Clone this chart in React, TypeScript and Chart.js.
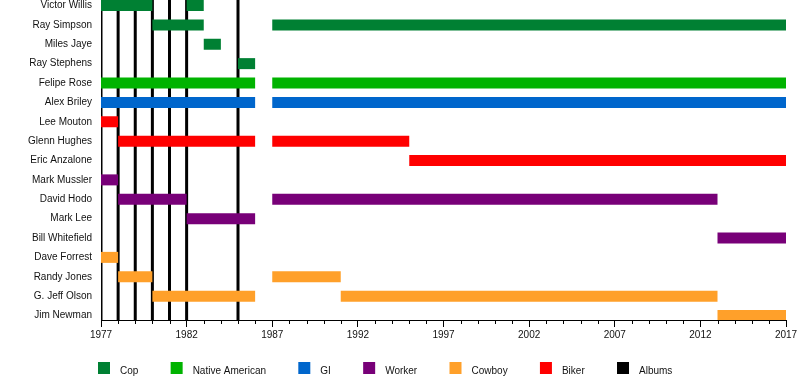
import React, { useEffect, useRef } from 'react';
import { Chart, registerables } from 'chart.js';

Chart.register(...registerables);

// ---- data ----
const MEMBERS = [
  'Victor Willis', 'Ray Simpson', 'Miles Jaye', 'Ray Stephens', 'Felipe Rose',
  'Alex Briley', 'Lee Mouton', 'Glenn Hughes', 'Eric Anzalone', 'Mark Mussler',
  'David Hodo', 'Mark Lee', 'Bill Whitefield', 'Dave Forrest', 'Randy Jones',
  'G. Jeff Olson', 'Jim Newman',
];

const COP: [string, number, number][] = [
  ['Victor Willis', 1977, 1980], ['Victor Willis', 1982, 1983],
  ['Ray Simpson', 1980, 1983], ['Ray Simpson', 1987, 2017],
  ['Miles Jaye', 1983, 1984], ['Ray Stephens', 1985, 1986],
];
const NATIVE_AMERICAN: [string, number, number][] = [
  ['Felipe Rose', 1977, 1986], ['Felipe Rose', 1987, 2017],
];
const GI: [string, number, number][] = [
  ['Alex Briley', 1977, 1986], ['Alex Briley', 1987, 2017],
];
const WORKER: [string, number, number][] = [
  ['Mark Mussler', 1977, 1978], ['David Hodo', 1978, 1982], ['David Hodo', 1987, 2013],
  ['Mark Lee', 1982, 1986], ['Bill Whitefield', 2013, 2017],
];
const COWBOY: [string, number, number][] = [
  ['Dave Forrest', 1977, 1978], ['Randy Jones', 1978, 1980], ['Randy Jones', 1987, 1991],
  ['G. Jeff Olson', 1980, 1986], ['G. Jeff Olson', 1991, 2013], ['Jim Newman', 2013, 2017],
];
const BIKER: [string, number, number][] = [
  ['Lee Mouton', 1977, 1978], ['Glenn Hughes', 1978, 1986], ['Glenn Hughes', 1987, 1995],
  ['Eric Anzalone', 1995, 2017],
];

const ROLE_NAMES = ['Cop', 'Native American', 'GI', 'Worker', 'Cowboy', 'Biker'];
const ROLE_COLORS = ['#008033', '#00B300', '#0066CC', '#780078', '#FFA02A', '#FF0000'];
const ROLE_SPANS = [COP, NATIVE_AMERICAN, GI, WORKER, COWBOY, BIKER];

const ALBUM_LABEL = 'Albums';
const ALBUM_COLOR = '#000000';
const ALBUM_YEARS = [1977, 1978, 1979, 1980, 1981, 1982, 1985];

const YEAR_MIN = 1977;
const YEAR_MAX = 2017;
const ROW_MIN = -0.284;
const ROW_MAX = 16.232;

const FONT = '"Liberation Sans", Arial, Helvetica, sans-serif';
const TEXT_COLOR = '#111';

const decorPlugin = {
  id: 'decor',
  afterDraw(chart: any) {
    const ctx = chart.ctx as CanvasRenderingContext2D;
    const xs = chart.scales.x;
    const area = chart.chartArea;
    ctx.save();
    // minor year ticks
    ctx.strokeStyle = '#000';
    ctx.lineWidth = 1;
    for (let yr = YEAR_MIN; yr <= YEAR_MAX; yr++) {
      if ((yr - YEAR_MIN) % 5 === 0) continue;
      const px = Math.round(xs.getPixelForValue(yr)) + 0.5;
      ctx.beginPath();
      ctx.moveTo(px, area.bottom);
      ctx.lineTo(px, area.bottom + 4);
      ctx.stroke();
    }
    // legend
    ctx.font = `10px ${FONT}`;
    ctx.textBaseline = 'alphabetic';
    ctx.textAlign = 'left';
    const items = ROLE_NAMES.map((n, i) => ({ text: n, color: ROLE_COLORS[i] }))
      .concat([{ text: ALBUM_LABEL, color: ALBUM_COLOR }]);
    let x = area.left - 3;
    const top = area.bottom + 42;
    items.forEach((it) => {
      ctx.fillStyle = it.color;
      ctx.fillRect(x, top, 12, 12);
      ctx.fillStyle = TEXT_COLOR;
      ctx.fillText(it.text, x + 22, top + 12);
      x += 22 + ctx.measureText(it.text).width + 32.3;
    });
    ctx.restore();
  },
};

export default function App() {
  const ref = useRef<HTMLCanvasElement>(null);

  useEffect(() => {
    const barSets = ROLE_SPANS.map((spans, i) => ({
      type: 'bar' as const,
      label: ROLE_NAMES[i],
      data: spans.map(([name, s, e]) => ({ y: MEMBERS.indexOf(name), x: [s, e] })),
      backgroundColor: ROLE_COLORS[i],
      borderWidth: 0,
      grouped: false,
      maxBarThickness: 11,
      order: 0,
    }));
    const albumSets = ALBUM_YEARS.map((yr) => ({
      type: 'line' as const,
      label: ALBUM_LABEL,
      data: [{ x: yr, y: ROW_MIN }, { x: yr, y: ROW_MAX }],
      borderColor: ALBUM_COLOR,
      borderWidth: 3,
      pointRadius: 0,
      fill: false,
      order: 1,
    }));

    const chart = new Chart(ref.current as HTMLCanvasElement, {
      type: 'bar',
      data: { datasets: [...barSets, ...albumSets] as any },
      options: {
        indexAxis: 'y',
        responsive: false,
        animation: false,
        events: [],
        layout: { padding: { left: 0, right: 14, top: 0, bottom: 40 } },
        plugins: { legend: { display: false }, tooltip: { enabled: false } },
        scales: {
          x: {
            type: 'linear',
            position: 'bottom',
            min: YEAR_MIN,
            max: YEAR_MAX,
            beginAtZero: false,
            afterFit: (s: any) => { s.height = 20; s.paddingLeft = 0; s.paddingRight = 0; },
            grid: {
              display: true,
              drawOnChartArea: false,
              drawTicks: true,
              tickLength: 7,
              tickWidth: 1,
              tickColor: (c: any) => ((c.tick && (c.tick.value - YEAR_MIN) % 5 === 0) ? '#000' : 'rgba(0,0,0,0)'),
            },
            border: { display: true, color: '#000', width: 1 },
            ticks: {
              stepSize: 1,
              autoSkip: false,
              maxRotation: 0,
              minRotation: 0,
              padding: 2,
              color: TEXT_COLOR,
              font: { size: 10, family: FONT },
              callback: (v: any) => ((v - YEAR_MIN) % 5 === 0 ? String(v) : ''),
            },
          },
          y: {
            type: 'linear',
            reverse: true,
            offset: false,
            min: ROW_MIN,
            max: ROW_MAX,
            afterBuildTicks: (s: any) => { s.ticks = MEMBERS.map((_, i) => ({ value: i })); },
            afterFit: (s: any) => { s.width = 101; s.paddingTop = 0; s.paddingBottom = 0; },
            grid: { display: false, drawTicks: false, offset: false },
            border: { display: false },
            ticks: {
              autoSkip: false,
              padding: 9,
              color: TEXT_COLOR,
              font: { size: 10, family: FONT },
              callback: (v: any) => MEMBERS[v] ?? '',
            },
          },
        },
      } as any,
      plugins: [decorPlugin],
    });
    return () => chart.destroy();
  }, []);

  return (
    <div style={{ position: 'absolute', left: 0, top: 0, width: 800, height: 380, background: '#fff' }}>
      <canvas ref={ref} width={800} height={380} style={{ display: 'block', width: 800, height: 380 }} />
    </div>
  );
}
